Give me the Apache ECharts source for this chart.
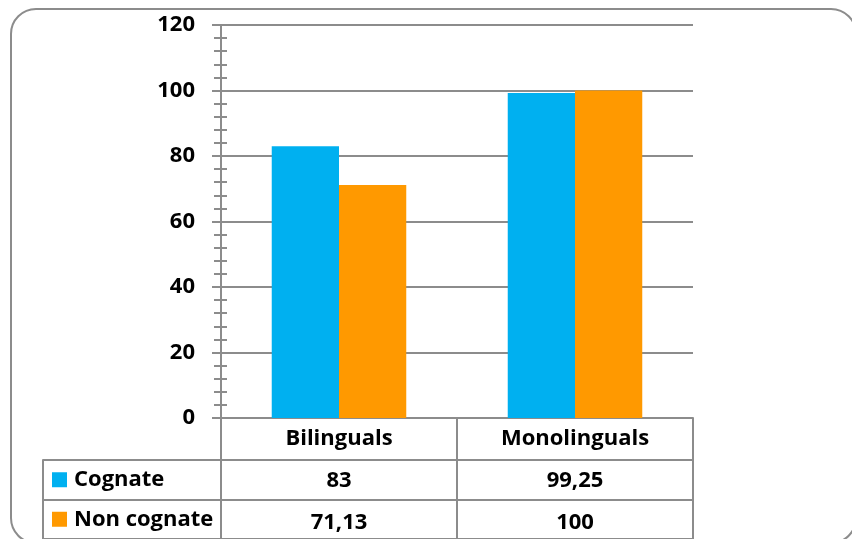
<!DOCTYPE html>
<html>
<head>
<meta charset="utf-8">
<script src="https://cdn.jsdelivr.net/npm/echarts@6/dist/echarts.min.js"></script>
<style>
html,body{margin:0;padding:0;background:#fff;}
#chart{width:852px;height:539px;}
</style>
</head>
<body>
<div id="chart"></div>
<script>
const categories = ['Bilinguals', 'Monolinguals'];
const seriesNames = ['Cognate', 'Non cognate'];
const cognate = [83, 99.25];
const nonCognate = [71.13, 100];
const yTicks = [0, 20, 40, 60, 80, 100, 120];

const colors = ['#00B0F0', '#FF9900'];
const gray = '#8c8c8c';
const font = '"Open Sans", sans-serif';
const fmt = v => String(v).replace('.', ',');

const chart = echarts.init(document.getElementById('chart'), null, {renderer: 'canvas'});

const labelStyle = {fontFamily: font, fontWeight: 'bold', fontSize: 22, color: '#000'};

const option = {
  animation: false,
  backgroundColor: '#fff',
  graphic: [{
    type: 'rect',
    shape: {x: 11, y: 9, width: 845, height: 534, r: 25},
    style: {fill: 'none', stroke: gray, lineWidth: 2},
    z: 100
  }],
  grid: [
    {left: 221, right: 159, top: 25, bottom: 121},
    {left: 43, right: 159, top: 460, bottom: -5}
  ],
  xAxis: [
    {
      type: 'category', gridIndex: 0, data: categories, position: 'bottom',
      axisLine: {show: true, lineStyle: {color: gray, width: 2}},
      axisTick: {show: true, alignWithLabel: false, length: 126, lineStyle: {color: gray, width: 2}},
      axisLabel: Object.assign({margin: 21, verticalAlign: 'middle'}, labelStyle),
      splitLine: {show: false}
    },
    {
      type: 'category', gridIndex: 0, data: cognate.map(fmt), position: 'bottom', offset: 42,
      axisLine: {show: false}, axisTick: {show: false},
      axisLabel: Object.assign({margin: 21, verticalAlign: 'middle'}, labelStyle)
    },
    {
      type: 'category', gridIndex: 0, data: nonCognate.map(fmt), position: 'bottom', offset: 84,
      axisLine: {show: false}, axisTick: {show: false},
      axisLabel: Object.assign({margin: 21, verticalAlign: 'middle'}, labelStyle)
    },
    {
      type: 'value', gridIndex: 1, show: false, min: 0, max: 1
    }
  ],
  yAxis: [
    {
      type: 'value', gridIndex: 0, min: yTicks[0], max: yTicks[yTicks.length - 1], interval: 20,
      axisLine: {show: true, lineStyle: {color: gray, width: 2}},
      axisTick: {show: true, length: 9, lineStyle: {color: gray, width: 2}},
      minorTick: {show: true, splitNumber: 5, length: 7, lineStyle: {color: gray, width: 2}},
      axisLabel: Object.assign({margin: 26}, labelStyle),
      splitLine: {show: true, lineStyle: {color: gray, width: 2}}
    },
    {
      type: 'value', gridIndex: 0, min: yTicks[0], max: yTicks[yTicks.length - 1], interval: 20,
      position: 'left',
      axisLine: {show: false},
      axisTick: {show: true, inside: true, length: 6, lineStyle: {color: gray, width: 2}},
      minorTick: {show: true, splitNumber: 5, length: 6, lineStyle: {color: gray, width: 2}},
      axisLabel: {show: false},
      splitLine: {show: false}
    },
    {
      type: 'category', gridIndex: 1, data: seriesNames, inverse: true,
      axisLine: {show: true, lineStyle: {color: gray, width: 2}},
      axisTick: {show: false},
      splitLine: {show: true, lineStyle: {color: gray, width: 2}},
      axisLabel: {
        inside: true, margin: 9, align: 'left', verticalAlign: 'middle',
        formatter: (v, i) => '{s' + i + '|}{t|' + v + '}',
        rich: {
          s0: {width: 15, height: 15, backgroundColor: colors[0]},
          s1: {width: 15, height: 15, backgroundColor: colors[1]},
          t: Object.assign({padding: [0, 0, 0, 7]}, labelStyle)
        }
      }
    }
  ],
  series: [
    {
      name: seriesNames[0], type: 'bar', xAxisIndex: 0, yAxisIndex: 0, data: cognate,
      itemStyle: {color: colors[0]}, barGap: '0%', barCategoryGap: '43%'
    },
    {
      name: seriesNames[1], type: 'bar', xAxisIndex: 0, yAxisIndex: 0, data: nonCognate,
      itemStyle: {color: colors[1]}, barGap: '0%', barCategoryGap: '43%'
    }
  ]
};
chart.setOption(option);
</script>
</body>
</html>
